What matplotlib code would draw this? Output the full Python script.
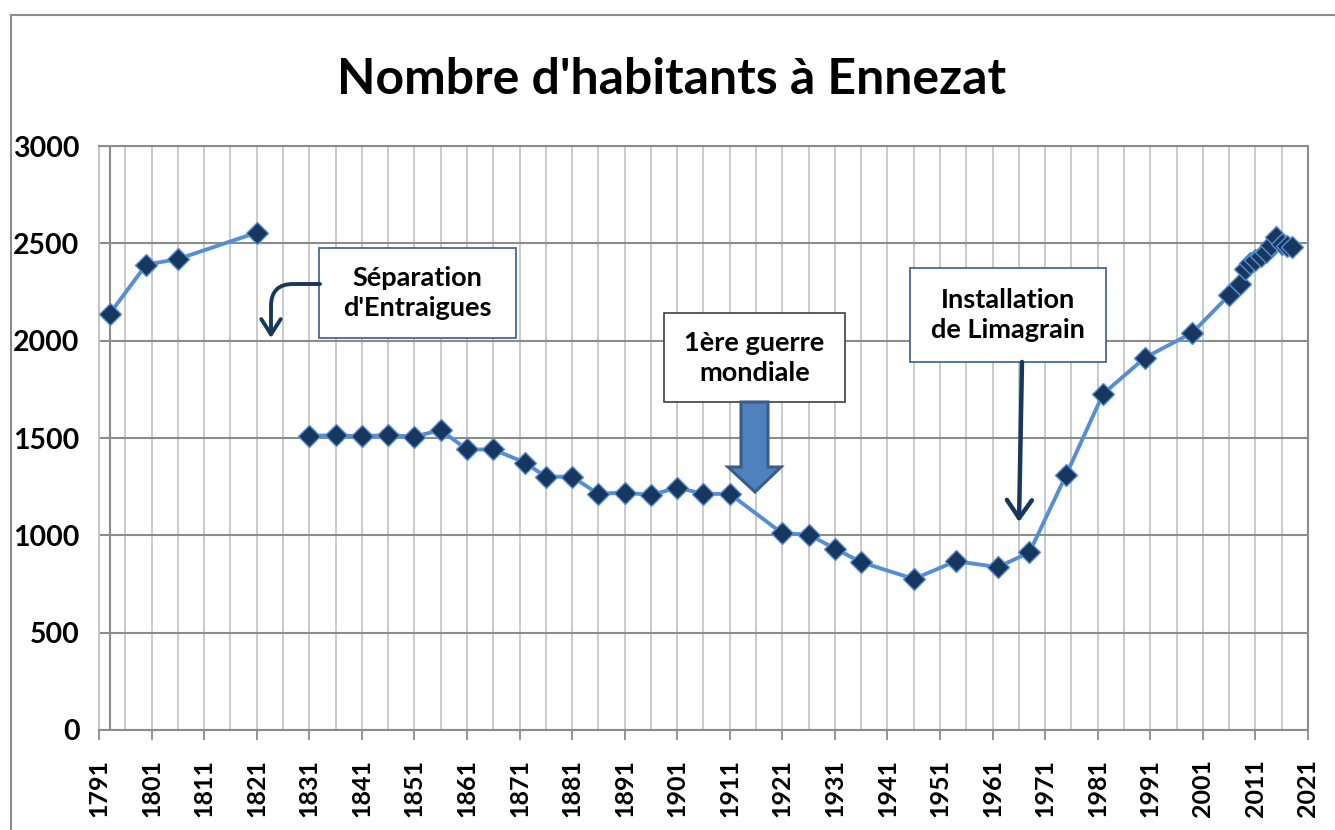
"""
Nombre d'habitants à Ennezat - population chart with annotations
"""

import numpy as np
import matplotlib.pyplot as plt
from matplotlib.patches import Rectangle, Polygon, FancyArrowPatch
from matplotlib.ticker import MultipleLocator

plt.rcParams['font.family'] = ['Lato', 'DejaVu Sans']
plt.rcParams['font.weight'] = 'bold'

# census values, two series (before / after the split of Entraigues)
years_before = [1793, 1800, 1806, 1821]
pop_before = [2137, 2391, 2419, 2555]

years_after = [1831, 1836, 1841, 1846, 1851, 1856, 1861, 1866, 1872, 1876,
               1881, 1886, 1891, 1896, 1901, 1906, 1911, 1921, 1926, 1931,
               1936, 1946, 1954, 1962, 1968, 1975, 1982, 1990, 1999, 2006,
               2008, 2009, 2010, 2011, 2012, 2013, 2014, 2015, 2016, 2017, 2018]
pop_after = [1511, 1514, 1509, 1515, 1507, 1541, 1441, 1441, 1374, 1301,
             1301, 1213, 1220, 1207, 1245, 1213, 1213, 1010, 1004, 932,
             862, 776, 867, 837, 912, 1311, 1726, 1913, 2041, 2234,
             2289, 2366, 2397, 2414, 2434, 2457, 2491, 2530, 2496, 2487, 2482]

notes = ["Séparation\nd'Entraigues", "1ère guerre\nmondiale", "Installation\nde Limagrain"]

W, H = 1335, 830
fig = plt.figure(figsize=(W / 100, H / 100), dpi=100)


def fx(x):
    return x / W


def fy(y):
    return 1 - y / H


ax = fig.add_axes([fx(99), fy(730), fx(1308) - fx(99), fy(146) - fy(730)])

LINE = '#558ED5'
NAVY = '#17375E'
GRID_V = '#C6C6C6'
GRID_H = '#8C8C8C'

for xs, ys in [(years_before, pop_before), (years_after, pop_after)]:
    ax.plot(xs, ys, color=LINE, lw=2.8, marker='D', markersize=11.5,
            markerfacecolor=NAVY, markeredgecolor=LINE, markeredgewidth=1.0,
            zorder=5)

ax.set_xlim(1791, 2021)
ax.set_ylim(0, 3000)
ax.xaxis.set_major_locator(MultipleLocator(10, offset=1))
ax.xaxis.set_minor_locator(MultipleLocator(5, offset=1))
ax.yaxis.set_major_locator(MultipleLocator(500))

# gridlines
ax.grid(axis='x', which='both', color=GRID_V, lw=1.3, zorder=0)
ax.grid(axis='y', which='major', color=GRID_H, lw=1.5, zorder=0)
ax.set_axisbelow(True)

for s in ['top', 'right', 'bottom', 'left']:
    ax.spines[s].set_color(GRID_H)
    ax.spines[s].set_linewidth(1.5)
ax.spines['left'].set_color(GRID_V)
ax.axvline(years_before[0], color=GRID_H, lw=1.5, zorder=1)

ax.tick_params(axis='x', which='major', direction='out', length=7, width=1.3,
               color=GRID_H, pad=14, labelsize=18, labelrotation=90)
ax.tick_params(axis='x', which='minor', length=0)
ax.tick_params(axis='y', direction='out', length=0, pad=14, labelsize=20.5)
for lab in ax.get_xticklabels() + ax.get_yticklabels():
    lab.set_fontweight('bold')

# title
fig.text(fx(672), fy(80), "Nombre d'habitants à Ennezat", ha='center', va='center',
         fontsize=36, fontweight='bold')

# outer frame (left and top)
fig.add_artist(plt.Line2D([fx(11), fx(11)], [fy(15), 0], color='#8C8C8C', lw=1.5))
fig.add_artist(plt.Line2D([fx(11), 1], [fy(15), fy(15)], color='#8C8C8C', lw=1.5))

# annotation boxes
boxes = [(319, 248, 516, 338, '#385D8A'),
         (664, 313, 845, 402, '#404040'),
         (910, 268, 1106, 362, '#385D8A')]
for (x0, y0, x1, y1, ec), txt in zip(boxes, notes):
    fig.add_artist(Rectangle((fx(x0), fy(y1)), fx(x1) - fx(x0), fy(y0) - fy(y1),
                             transform=fig.transFigure, facecolor='white',
                             edgecolor=ec, lw=1.2, zorder=10))
    fig.text(fx((x0 + x1) / 2), fy((y0 + y1) / 2), txt, ha='center', va='center',
             fontsize=19.5, fontweight='bold', linespacing=1.3, zorder=11)

# curved arrow (Séparation d'Entraigues)
fig.add_artist(FancyArrowPatch((fx(320), fy(284)), (fx(271), fy(338)),
                               transform=fig.transFigure,
                               connectionstyle='angle,angleA=180,angleB=90,rad=22',
                               arrowstyle='->,head_length=0.55,head_width=0.35',
                               mutation_scale=20, shrinkA=0, shrinkB=0,
                               color=NAVY, lw=2.8, zorder=10))

# block arrow (1ère guerre mondiale)
pts = [(741, 402), (768, 402), (768, 467), (781, 467), (755, 492),
       (728, 467), (741, 467)]
fig.add_artist(Polygon([(fx(x), fy(y)) for x, y in pts], closed=True,
                       transform=fig.transFigure, facecolor='#4F81BD',
                       edgecolor='#385D8A', lw=2.2, zorder=10))

# straight arrow (Installation de Limagrain)
fig.add_artist(FancyArrowPatch((fx(1022), fy(362)), (fx(1019), fy(522)),
                               transform=fig.transFigure,
                               arrowstyle='->,head_length=0.65,head_width=0.45',
                               mutation_scale=20, shrinkA=0, shrinkB=0,
                               color=NAVY, lw=3.2, zorder=10))

fig.savefig('out.png', dpi=100)
